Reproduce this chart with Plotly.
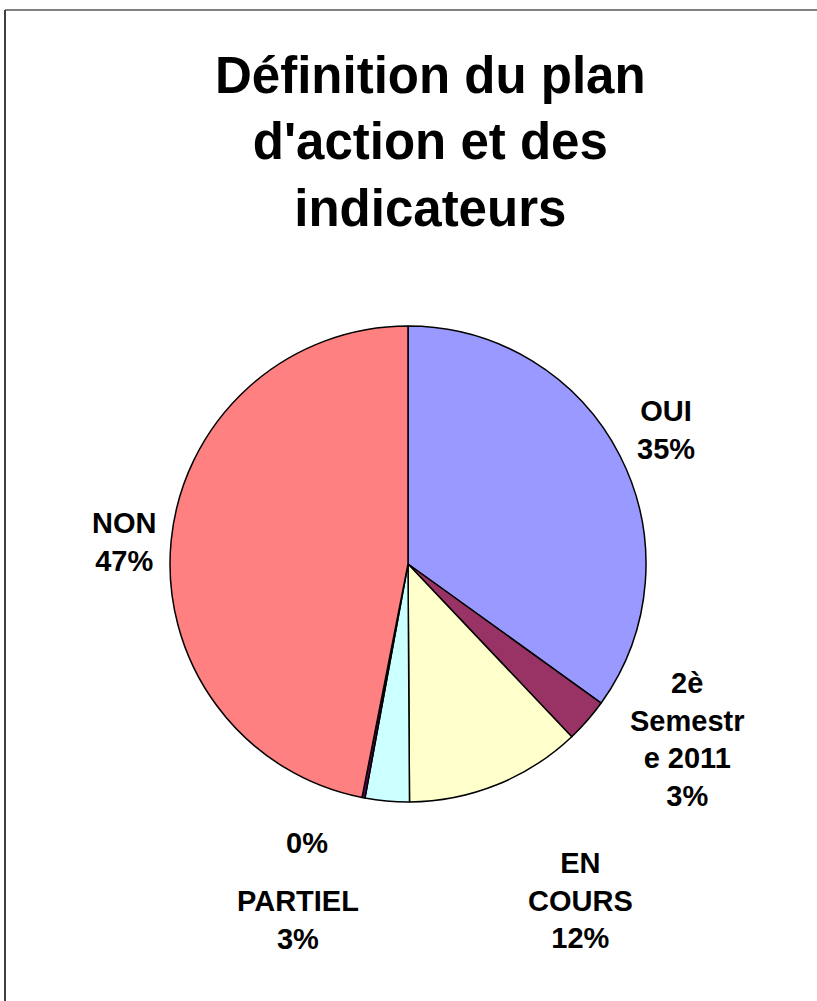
import plotly.graph_objects as go

# ---- data ----
categories = ["OUI", "2è Semestre 2011", "EN COURS", "PARTIEL", "", "NON"]
values = [35, 3, 12, 3, 0.2, 47]
colors = ["#9999FF", "#993366", "#FFFFCC", "#CCFFFF", "#660066", "#FF8080"]
title_lines = ["Définition du plan", "d'action et des", "indicateurs"]

W, H = 817, 1001
total = sum(values)
pcts = [round(v / total * 100) for v in values]

# how Excel wrapped the category names in the labels
wrapped = {"2è Semestre 2011": "2è<br>Semestr<br>e 2011", "EN COURS": "EN<br>COURS"}

# pie geometry (pixels)
cx, cy, R = 408, 564, 238

fig = go.Figure(go.Pie(
    labels=[c if c else " " for c in categories],
    values=values,
    marker=dict(colors=colors, line=dict(color="#000000", width=1.5)),
    sort=False,
    direction="clockwise",
    rotation=0,
    textinfo="none",
    hoverinfo="skip",
    showlegend=False,
    domain=dict(x=[(cx - R) / W, (cx + R) / W], y=[1 - (cy + R) / H, 1 - (cy - R) / H]),
))

font_family = "Arial, Liberation Sans, Helvetica, sans-serif"

# label block centres (pixels)
label_pos = [(666, 430), (687, 739), (580, 900), (298, 920), (307, 843), (124, 542)]

annotations = []
for cat, p, (lx, ly) in zip(categories, pcts, label_pos):
    name = wrapped.get(cat, cat)
    txt = f"{name}<br>{p}%" if name else f"{p}%"
    annotations.append(dict(
        x=lx / W, y=1 - ly / H, xref="paper", yref="paper",
        text=f"<b>{txt}</b>", showarrow=False, align="center",
        xanchor="center", yanchor="middle",
        font=dict(family=font_family, size=29, color="#000000"),
    ))

annotations.append(dict(
    x=430 / W, y=1 - 142 / H, xref="paper", yref="paper",
    text="<b>" + "<br>".join(title_lines) + "</b>", showarrow=False, align="center",
    xanchor="center", yanchor="middle",
    font=dict(family=font_family, size=51, color="#000000"),
))

shapes = [
    dict(type="line", xref="paper", yref="paper", x0=5 / W, x1=1.05, y0=1 - 10 / H, y1=1 - 10 / H,
         line=dict(color="#808080", width=2)),
    dict(type="line", xref="paper", yref="paper", x0=5 / W, x1=5 / W, y0=-0.05, y1=1 - 10 / H,
         line=dict(color="#404040", width=2)),
]

fig.update_layout(
    width=W, height=H,
    margin=dict(l=0, r=0, t=0, b=0),
    paper_bgcolor="#FFFFFF", plot_bgcolor="#FFFFFF",
    annotations=annotations, shapes=shapes,
)

fig.write_html(
    "out.html",
    config={"displayModeBar": False},
    post_script="document.body.style.margin='0';document.body.style.overflow='hidden';",
)
